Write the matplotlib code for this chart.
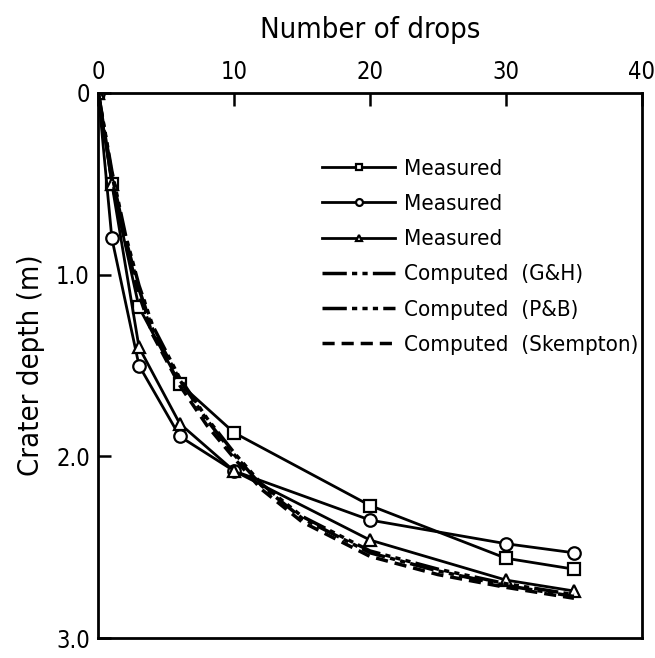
import matplotlib
matplotlib.use("Agg")
import matplotlib.pyplot as plt

plt.rcParams['font.family'] = ['DejaVu Sans']
plt.rcParams['font.stretch'] = 'condensed'

# measured data (drops, crater depth m)
sq_x = [0, 1, 3, 6, 10, 20, 30, 35]
sq_y = [0, 0.5, 1.18, 1.6, 1.87, 2.27, 2.56, 2.62]
ci_x = [0, 1, 3, 6, 10, 20, 30, 35]
ci_y = [0, 0.8, 1.5, 1.89, 2.08, 2.35, 2.48, 2.53]
tr_x = [0, 1, 3, 6, 10, 20, 30, 35]
tr_y = [0, 0.5, 1.4, 1.82, 2.08, 2.46, 2.68, 2.74]

# computed curves
comp_x = [0, 1, 2, 3, 4, 6, 8, 10, 12, 15, 20, 25, 30, 35]
gh_y = [0, 0.45, 0.8, 1.08, 1.3, 1.58, 1.8, 1.99, 2.16, 2.34, 2.53, 2.63, 2.71, 2.77]
pb_y = [0, 0.43, 0.78, 1.06, 1.28, 1.57, 1.79, 1.98, 2.15, 2.33, 2.52, 2.62, 2.70, 2.76]
sk_y = [0, 0.47, 0.82, 1.11, 1.33, 1.61, 1.83, 2.01, 2.18, 2.36, 2.55, 2.65, 2.72, 2.78]

fig = plt.figure(figsize=(6.55, 6.58), dpi=100)
ax = fig.add_axes([0.15, 0.03, 0.83, 0.829])

mk = dict(color='black', lw=2, markersize=9, markerfacecolor='white', markeredgewidth=1.6)
ax.plot(sq_x, sq_y, marker='s', label='Measured', **mk)
ax.plot(ci_x, ci_y, marker='o', label='Measured', **mk)
ax.plot(tr_x, tr_y, marker='^', label='Measured', **mk)
ax.plot(comp_x, gh_y, color='black', lw=2.5, dashes=(7, 1.5, 1.5, 1.5, 1.5, 1.5), label='Computed  (G&H)')
ax.plot(comp_x, pb_y, color='black', lw=2.5, dashes=(7, 1.5, 1.5, 1.5, 1.5, 1.5, 1.5, 1.5), label='Computed  (P&B)')
ax.plot(comp_x, sk_y, color='black', lw=2.5, dashes=(3.5, 2), label='Computed  (Skempton)')

ax.set_xlim(0, 40)
ax.set_ylim(3.0, 0)
ax.xaxis.tick_top()
ax.xaxis.set_label_position('top')
ax.set_xticks([0, 10, 20, 30, 40])
ax.set_yticks([0, 1.0, 2.0, 3.0])
ax.set_yticklabels(['0', '1.0', '2.0', '3.0'])
ax.tick_params(direction='in', length=9, width=1.8, labelsize=17, pad=6)
for s in ax.spines.values():
    s.set_linewidth(2)

ax.set_xlabel('Number of drops', fontsize=21, labelpad=16)
ax.set_ylabel('Crater depth (m)', fontsize=21, labelpad=8)

ax.legend(loc='upper left', bbox_to_anchor=(0.375, 0.915), frameon=False, fontsize=16,
          handlelength=3.3, markerscale=0.55, labelspacing=0.68, handletextpad=0.4)

fig.savefig('out.png', dpi=100)
